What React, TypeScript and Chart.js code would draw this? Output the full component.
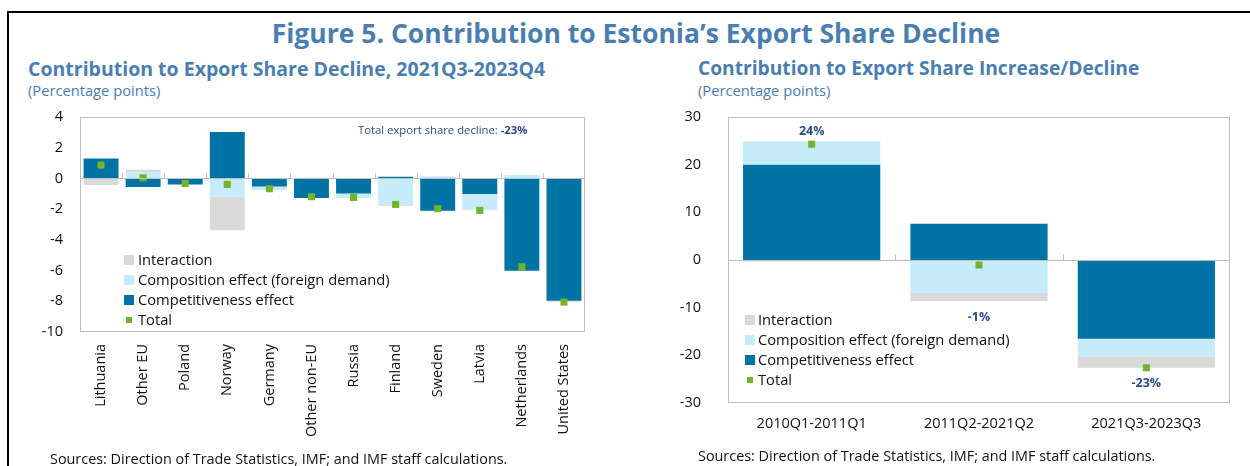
import React, { useEffect, useRef } from 'react';
import { Chart, registerables } from 'chart.js';
Chart.register(...registerables);

const FONT = '"Open Sans", "Noto Sans", sans-serif';

// ---------- Left chart data ----------
const leftCategories = ['Lithuania', 'Other EU', 'Poland', 'Norway', 'Germany', 'Other non-EU', 'Russia', 'Finland', 'Sweden', 'Latvia', 'Netherlands', 'United States'];
const leftCompetitiveness = [1.3, -0.56, -0.4, 3.02, -0.52, -1.28, -0.98, 0.11, -2.1, -1.02, -6.01, -7.96];
const leftComposition = [0, 0.41, 0, -1.19, -0.24, 0.05, -0.3, -1.74, 0.15, -1.0, 0.24, 0];
const leftInteraction = [-0.43, 0.15, 0, -2.19, 0, 0, 0, -0.06, 0, -0.06, 0, -0.07];
const leftTotal = [0.87, 0.04, -0.33, -0.39, -0.67, -1.19, -1.24, -1.69, -1.97, -2.08, -5.75, -8.05];
const leftYRange = [-10, 4];
const leftYStep = 2;

// ---------- Right chart data ----------
const rightCategories = ['2010Q1-2011Q1', '2011Q2-2021Q2', '2021Q3-2023Q3'];
const rightCompetitiveness = [20.0, 7.6, -16.5];
const rightComposition = [4.86, -6.8, -3.7];
const rightInteraction = [-0.3, -1.8, -2.4];
const rightTotal = [24.3, -1.05, -22.6];
const rightLabels = ['24%', '-1%', '-23%'];
const rightYRange = [-30, 30];
const rightYStep = 10;

const seriesNames = ['Interaction', 'Composition effect (foreign demand)', 'Competitiveness effect', 'Total'];

const C_COMP = '#0073A5';
const C_COMPO = '#C6ECFB';
const C_INTER = '#D9D9D9';
const C_TOTAL = '#72B52B';
const C_AXIS = '#BFBFBF';
const C_TITLE = '#4A7EB0';
const C_LABEL = '#2B4C86';
const TICK_SIZE = 14.5;

interface LegendPos { x: number; y: number; textX: number; }

function frameAndLegend(legend: LegendPos, tickLen: number, barLabels?: string[]) {
  return {
    id: 'frameAndLegend',
    afterDatasetsDraw(chart: any) {
      const ctx = chart.ctx;
      const a = chart.chartArea;
      const xs = chart.scales.x;
      const ys = chart.scales.y;
      ctx.save();
      ctx.strokeStyle = C_AXIS;
      ctx.lineWidth = 1;
      ctx.strokeRect(Math.round(a.left) + 0.5, Math.round(a.top) + 0.5, Math.round(a.right - a.left) - 1, Math.round(a.bottom - a.top) - 1);
      const y0 = Math.round(ys.getPixelForValue(0)) + 0.5;
      ctx.beginPath();
      ctx.moveTo(a.left, y0);
      ctx.lineTo(a.right, y0);
      const n = chart.data.labels.length;
      for (let i = 1; i < n; i++) {
        const bx = Math.round((xs.getPixelForValue(i - 1) + xs.getPixelForValue(i)) / 2) + 0.5;
        ctx.moveTo(bx, y0);
        ctx.lineTo(bx, y0 - tickLen);
      }
      ctx.stroke();

      if (barLabels) {
        ctx.font = `bold 12.5px ${FONT}`;
        ctx.fillStyle = C_LABEL;
        ctx.textAlign = 'center';
        ctx.textBaseline = 'middle';
        const ds = chart.data.datasets;
        for (let i = 0; i < n; i++) {
          let pos = 0, neg = 0;
          for (let d = 0; d < 3; d++) {
            const v = ds[d].data[i];
            if (v >= 0) pos += v; else neg += v;
          }
          const tot = ds[3].data[i];
          const x = xs.getPixelForValue(i);
          const y = tot >= 0 ? ys.getPixelForValue(pos) - 10 : ys.getPixelForValue(neg) + 16;
          ctx.fillText(barLabels[i], x, y);
        }
      }

      const colors = [C_INTER, C_COMPO, C_COMP, C_TOTAL];
      ctx.font = `14.7px ${FONT}`;
      ctx.textAlign = 'left';
      ctx.textBaseline = 'middle';
      for (let k = 0; k < 4; k++) {
        const cy = legend.y + k * 20;
        ctx.fillStyle = colors[k];
        if (k < 3) ctx.fillRect(legend.x, cy - 5, 10, 10);
        else ctx.fillRect(legend.x + 2, cy - 3, 6, 6);
        ctx.fillStyle = '#111';
        ctx.fillText(seriesNames[k], legend.textX, cy + 0.5);
      }
      ctx.restore();
    },
  };
}

function buildConfig(opts: {
  categories: string[]; comp: number[]; compo: number[]; inter: number[]; total: number[];
  range: number[]; step: number; yWidth: number; xHeight: number; padding: any;
  barPct: number; rotate: boolean; yPad: number; xPad: number; legend: LegendPos; tickLen: number; barLabels?: string[];
}) {
  return {
    type: 'bar' as const,
    data: {
      labels: opts.categories,
      datasets: [
        { type: 'bar', label: seriesNames[2], data: opts.comp, backgroundColor: C_COMP, order: 1, stack: 's', barPercentage: opts.barPct, categoryPercentage: 1 },
        { type: 'bar', label: seriesNames[1], data: opts.compo, backgroundColor: C_COMPO, order: 1, stack: 's', barPercentage: opts.barPct, categoryPercentage: 1 },
        { type: 'bar', label: seriesNames[0], data: opts.inter, backgroundColor: C_INTER, order: 1, stack: 's', barPercentage: opts.barPct, categoryPercentage: 1 },
        { type: 'line', label: seriesNames[3], data: opts.total, showLine: false, order: 0, stack: 'total', pointStyle: 'rect', pointRadius: 5, pointHoverRadius: 5, pointBackgroundColor: C_TOTAL, pointBorderWidth: 0, borderColor: C_TOTAL, backgroundColor: C_TOTAL },
      ],
    },
    options: {
      animation: false,
      responsive: false,
      maintainAspectRatio: false,
      layout: { padding: opts.padding },
      plugins: { legend: { display: false }, tooltip: { enabled: false } },
      scales: {
        x: {
          stacked: true,
          grid: { display: false, drawTicks: false },
          border: { display: false },
          ticks: {
            autoSkip: false,
            maxRotation: opts.rotate ? 90 : 0,
            minRotation: opts.rotate ? 90 : 0,
            padding: opts.xPad,
            color: '#111',
            font: { family: FONT, size: TICK_SIZE },
          },
          afterFit: (s: any) => { s.height = opts.xHeight; s.paddingLeft = 0; s.paddingRight = 0; },
        },
        y: {
          stacked: true,
          min: opts.range[0],
          max: opts.range[1],
          grid: { display: false, drawTicks: false },
          border: { display: false },
          ticks: { stepSize: opts.step, padding: opts.yPad, color: '#111', font: { family: FONT, size: TICK_SIZE } },
          afterFit: (s: any) => { s.width = opts.yWidth; s.paddingTop = 0; s.paddingBottom = 0; },
        },
      },
    },
    plugins: [frameAndLegend(opts.legend, opts.tickLen, opts.barLabels)],
  };
}

export default function App() {
  const leftRef = useRef<HTMLCanvasElement>(null);
  const rightRef = useRef<HTMLCanvasElement>(null);

  useEffect(() => {
    const left = new Chart(leftRef.current as HTMLCanvasElement, buildConfig({
      categories: leftCategories, comp: leftCompetitiveness, compo: leftComposition, inter: leftInteraction, total: leftTotal,
      range: leftYRange, step: leftYStep, yWidth: 80, xHeight: 134, padding: { top: 17, right: 55, left: 0, bottom: 0 },
      barPct: 0.83, rotate: true, yPad: 17, xPad: 12, legend: { x: 124, y: 160, textX: 138 }, tickLen: 5,
    }) as any);
    const right = new Chart(rightRef.current as HTMLCanvasElement, buildConfig({
      categories: rightCategories, comp: rightCompetitiveness, compo: rightComposition, inter: rightInteraction, total: rightTotal,
      range: rightYRange, step: rightYStep, yWidth: 88, xHeight: 63, padding: { top: 17, right: 20, left: 0, bottom: 0 },
      barPct: 0.82, rotate: false, yPad: 27, xPad: 12, legend: { x: 105, y: 220, textX: 118 }, tickLen: 6, barLabels: rightLabels,
    }) as any);
    return () => { left.destroy(); right.destroy(); };
  }, []);

  const abs = (l: number, t: number, extra: any = {}) => ({ position: 'absolute' as const, left: l, top: t, whiteSpace: 'nowrap' as const, lineHeight: 1, fontFamily: FONT, ...extra });

  return (
    <div style={{ position: 'fixed', left: 0, top: 0, width: 1250, height: 466, background: '#fff', overflow: 'hidden' }}>
      <div style={{ position: 'absolute', left: 7, top: 11, width: 1400, height: 600, borderTop: '2px solid #000', borderLeft: '2px solid #000' }} />
      <div style={abs(0, 20, { width: 1272, textAlign: 'center', fontSize: 26.5, fontWeight: 700, color: C_TITLE })}>
        Figure 5. Contribution to Estonia’s Export Share Decline
      </div>
      <div style={abs(28, 59, { fontSize: 19.5, fontWeight: 700, color: C_TITLE })}>Contribution to Export Share Decline, 2021Q3-2023Q4</div>
      <div style={abs(28, 82.5, { fontSize: 14.7, color: C_TITLE })}>(Percentage points)</div>
      <div style={abs(698, 58, { fontSize: 19.2, fontWeight: 700, color: C_TITLE })}>Contribution to Export Share Increase/Decline</div>
      <div style={abs(698, 82.5, { fontSize: 14.7, color: C_TITLE })}>(Percentage points)</div>
      <canvas ref={leftRef} width={640} height={366} style={{ position: 'absolute', left: 0, top: 100, width: 640, height: 366 }} />
      <canvas ref={rightRef} width={610} height={366} style={{ position: 'absolute', left: 640, top: 100, width: 610, height: 366 }} />
      <div style={abs(358, 124, { fontSize: 11.3, color: '#2E4D7E' })}>Total export share decline: <b>-23%</b></div>
      <div style={abs(50, 451.5, { fontSize: 14.4, color: '#111' })}>Sources: Direction of Trade Statistics, IMF; and IMF staff calculations.</div>
      <div style={abs(698, 448.5, { fontSize: 14.4, color: '#111' })}>Sources: Direction of Trade Statistics, IMF; and IMF staff calculations.</div>
    </div>
  );
}
